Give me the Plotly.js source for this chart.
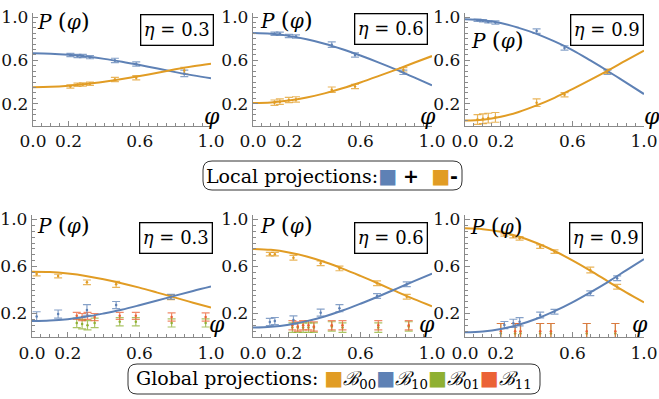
<!DOCTYPE html>
<html><head><meta charset="utf-8">
<script src="https://cdn.plot.ly/plotly-3.0.1.min.js"></script>
<style>html,body{margin:0;padding:0;background:#fff;}#plot{width:659px;height:399px;}</style>
</head><body><div id="plot"></div>
<script>
// ---------- data ----------
const phiGrid = [0,0.1,0.2,0.3,0.4,0.5,0.6,0.7,0.8,0.9,1.0];
const etaLabels = ["0.3","0.6","0.9"];

// Local projections: theory curves
const t1Plus  = [0.665,0.662,0.652,0.636,0.614,0.587,0.557,0.525,0.492,0.462,0.435];
const t1Minus = [0.353,0.357,0.367,0.382,0.403,0.428,0.456,0.487,0.518,0.546,0.570];
const t2Plus  = [0.852,0.845,0.826,0.795,0.754,0.703,0.645,0.582,0.515,0.443,0.370];
const t2Minus = [0.207,0.213,0.230,0.258,0.296,0.343,0.397,0.455,0.515,0.578,0.640];
const t3Plus  = [0.980,0.970,0.945,0.900,0.845,0.775,0.695,0.600,0.500,0.395,0.290];
const t3Minus = [0.045,0.053,0.080,0.125,0.185,0.255,0.335,0.420,0.508,0.600,0.690];

// Local projections: measured points
const d1x = [0.21,0.25,0.28,0.32,0.46,0.58,0.85];
const d1Plus = [0.650,0.640,0.640,0.630,0.600,0.567,0.480];
const d1PlusErr = [0.015,0.015,0.015,0.015,0.02,0.02,0.03];
const d1Minus = [0.360,0.375,0.378,0.384,0.424,0.440,0.507];
const d1MinusErr = [0.015,0.015,0.015,0.015,0.02,0.02,0.03];
const d2x = [0.12,0.15,0.20,0.24,0.44,0.57,0.84];
const d2Plus = [0.845,0.845,0.825,0.820,0.745,0.650,0.490];
const d2PlusErr = [0.015,0.015,0.015,0.015,0.025,0.02,0.02];
const d2Minus = [0.210,0.220,0.235,0.240,0.330,0.360,0.513];
const d2MinusErr = [0.025,0.025,0.025,0.025,0.025,0.02,0.02];
const d3x = [0.07,0.10,0.13,0.17,0.40,0.556,0.796];
const d3Plus = [0.970,0.965,0.955,0.950,0.870,0.715,0.490];
const d3PlusErr = [0.01,0.01,0.01,0.015,0.02,0.02,0.02];
const d3Minus = [0.055,0.062,0.068,0.075,0.210,0.283,0.500];
const d3MinusErr = [0.045,0.045,0.045,0.045,0.035,0.02,0.02];

// Global projections: theory curves
const g1B00 = [0.556,0.553,0.540,0.520,0.492,0.458,0.420,0.378,0.335,0.292,0.250];
const g1B10 = [0.136,0.140,0.152,0.172,0.200,0.232,0.270,0.310,0.352,0.392,0.430];
const g2B00 = [0.750,0.742,0.720,0.685,0.638,0.582,0.520,0.455,0.388,0.322,0.262];
const g2B10 = [0.080,0.087,0.105,0.135,0.175,0.225,0.283,0.345,0.410,0.475,0.540];
const g3B00 = [0.925,0.918,0.895,0.855,0.800,0.732,0.652,0.565,0.472,0.380,0.295];
const g3B10 = [0.040,0.047,0.068,0.104,0.155,0.220,0.295,0.380,0.470,0.567,0.664];

// Global projections: measured points
const b1x = [0.026,0.146,0.307,0.470,0.776];
const b1B00 = [0.536,0.519,0.465,0.448,0.338];
const b1B00Err = [0.015,0.015,0.02,0.025,0.02];
const b1B10 = [0.175,0.195,0.230,0.272,0.343];
const b1B10Err = [0.04,0.035,0.045,0.03,0.02];
const b1xGR = [0.25,0.28,0.31,0.35,0.49,0.58,0.78,0.97];
const b1B01 = [0.12,0.11,0.10,0.12,0.13,0.13,0.12,0.12];
const b1B01Err = [0.04,0.04,0.04,0.04,0.035,0.035,0.035,0.035];
const b1B11 = [0.18,0.17,0.18,0.17,0.18,0.18,0.17,0.17];
const b1B11Err = [0.03,0.03,0.03,0.03,0.03,0.03,0.035,0.035];

const b2x = [0.094,0.122,0.226,0.378,0.483,0.693,0.859];
const b2B00 = [0.705,0.705,0.675,0.627,0.584,0.457,0.343];
const b2B00Err = [0.015,0.015,0.02,0.02,0.02,0.02,0.02];
const b2B10 = [0.128,0.136,0.145,0.207,0.245,0.349,0.449];
const b2B10Err = [0.03,0.03,0.035,0.03,0.03,0.02,0.02];
const b2xGR = [0.22,0.25,0.28,0.31,0.34,0.44,0.50,0.70,0.87];
const b2B01 = [0.08,0.08,0.08,0.08,0.08,0.09,0.08,0.08,0.09];
const b2B01Err = [0.04,0.04,0.04,0.04,0.04,0.04,0.04,0.04,0.04];
const b2B11 = [0.10,0.09,0.10,0.10,0.09,0.10,0.10,0.10,0.10];
const b2B11Err = [0.04,0.04,0.04,0.04,0.04,0.04,0.04,0.04,0.04];

const b3x = [0.22,0.27,0.305,0.42,0.50,0.70,0.85];
const b3B00 = [0.868,0.854,0.840,0.769,0.726,0.570,0.428];
const b3B00Err = [0.01,0.01,0.015,0.015,0.015,0.025,0.02];
const b3B10 = [0.102,0.116,0.130,0.187,0.215,0.372,0.500];
const b3B10Err = [0.03,0.035,0.035,0.025,0.02,0.02,0.02];
const b3xGR = [0.20,0.28,0.31,0.42,0.48,0.68,0.84];
const b3B01 = [0.03,0.03,0.03,0.03,0.03,0.03,0.03];
const b3B01Err = [0.085,0.085,0.085,0.085,0.085,0.085,0.085];
const b3B11 = [0.05,0.05,0.05,0.05,0.05,0.05,0.05];
const b3B11Err = [0.065,0.065,0.065,0.065,0.065,0.065,0.065];

const xTickVals = [0,0.2,0.6,1.0];
const xTickText = ["0.0","0.2","0.6","1.0"];
const yTickVals = [0.2,0.6,1.0];
const yTickText = ["0.2","0.6","1.0"];

// ---------- styling ----------
const BLUE='rgb(94,129,181)', ORANGE='rgb(225,156,36)', GREEN='rgb(143,176,50)', RED='rgb(235,98,53)';
function fade(c,a){return c.replace('rgb','rgba').replace(')',','+a+')');}
const W=659,H=399;
const fx=p=>p/W, fy=p=>1-p/H;
const SERIF='DejaVu Serif';

const traces=[];
function curve(ax,y,c){
  traces.push({x:phiGrid,y:y,xaxis:'x'+ax,yaxis:'y'+ax,mode:'lines',
    line:{color:c,width:2,shape:'spline',smoothing:1},hoverinfo:'skip',showlegend:false});
}
function pts(ax,x,y,e,c){
  traces.push({x:x,y:y,xaxis:'x'+ax,yaxis:'y'+ax,mode:'markers',
    marker:{color:c,size:2.5},
    error_y:{type:'data',array:e,visible:true,color:fade(c,0.75),thickness:1.2,width:4},
    hoverinfo:'skip',showlegend:false});
}
pts('',d1x,d1Plus,d1PlusErr,BLUE); pts('',d1x,d1Minus,d1MinusErr,ORANGE);
curve('',t1Plus,BLUE); curve('',t1Minus,ORANGE);
pts('2',d2x,d2Plus,d2PlusErr,BLUE); pts('2',d2x,d2Minus,d2MinusErr,ORANGE);
curve('2',t2Plus,BLUE); curve('2',t2Minus,ORANGE);
pts('3',d3x,d3Plus,d3PlusErr,BLUE); pts('3',d3x,d3Minus,d3MinusErr,ORANGE);
curve('3',t3Plus,BLUE); curve('3',t3Minus,ORANGE);
pts('4',b1xGR,b1B01,b1B01Err,GREEN); pts('4',b1xGR,b1B11,b1B11Err,RED);
pts('4',b1x,b1B00,b1B00Err,ORANGE); pts('4',b1x,b1B10,b1B10Err,BLUE);
curve('4',g1B00,ORANGE); curve('4',g1B10,BLUE);
pts('5',b2xGR,b2B01,b2B01Err,GREEN); pts('5',b2xGR,b2B11,b2B11Err,RED);
pts('5',b2x,b2B00,b2B00Err,ORANGE); pts('5',b2x,b2B10,b2B10Err,BLUE);
curve('5',g2B00,ORANGE); curve('5',g2B10,BLUE);
pts('6',b3xGR,b3B01,b3B01Err,GREEN); pts('6',b3xGR,b3B11,b3B11Err,RED);
pts('6',b3x,b3B00,b3B00Err,ORANGE); pts('6',b3x,b3B10,b3B10Err,BLUE);
curve('6',g3B00,ORANGE); curve('6',g3B10,BLUE);

const AXC='#8a8a8a';
function xax(l,r,anchor){
  return {domain:[fx(l),fx(r)],range:[0,1.0],anchor:anchor,showgrid:false,zeroline:false,
    showline:true,linecolor:AXC,linewidth:1.2,ticks:'inside',ticklen:5,tickcolor:AXC,tickwidth:1,
    tickmode:'array',tickvals:xTickVals,ticktext:xTickText,
    minor:{tickmode:'linear',tick0:0,dtick:0.05,ticks:'inside',ticklen:3,tickcolor:AXC,tickwidth:1},
    tickfont:{family:SERIF,size:17,color:'#111'},fixedrange:true};
}
function yax(b,t,anchor){
  return {domain:[fy(b),fy(t)],range:[0,1.04],anchor:anchor,showgrid:false,zeroline:false,
    showline:true,linecolor:AXC,linewidth:1.2,ticks:'inside',ticklen:5,tickcolor:AXC,tickwidth:1,
    tickmode:'array',tickvals:yTickVals,ticktext:yTickText,
    minor:{tickmode:'linear',tick0:0,dtick:0.05,ticks:'inside',ticklen:3,tickcolor:AXC,tickwidth:1},
    tickfont:{family:SERIF,size:17,color:'#111'},fixedrange:true};
}
const topB=125.5, topT=125.5-1.04*108.5;
const botB=337, botT=337-1.04*117.5;

const ann=[];
function txt(x,y,t,size,extra){
  ann.push(Object.assign({xref:'paper',yref:'paper',x:fx(x),y:fy(y),text:t,showarrow:false,
    xanchor:'center',yanchor:'middle',font:{family:SERIF,size:size,color:'#000'}},extra||{}));
}
const Plab='<i>P</i> <span style="font-size:23px">(</span><i>φ</i><span style="font-size:23px">)</span>';
[[63,21],[286,20],[497,40],[63,225],[286,225],[496,226]].forEach(p=>txt(p[0],p[1],Plab,20));
[[212,116],[428,116],[652,116],[217,324],[427,324],[640,324]].forEach(p=>txt(p[0],p[1],'<i>φ</i>',22));
[[177,30,0],[391,29,1],[607,30,2],[176,238,0],[391,238,1],[606,238,2]].forEach(p=>
  txt(p[0],p[1],'<i>η</i> = '+etaLabels[p[2]],18,
    {bordercolor:'#000',borderwidth:1.3,borderpad:2,bgcolor:'#fff',width:67,height:25}));

const sq=c=>'<span style="color:'+c+';font-family:DejaVu Sans;font-size:20px">■</span>';
txt(332,176,'Local projections:'+sq(BLUE)+' <b><span style="font-family:DejaVu Sans">+</span></b>  '+sq(ORANGE)+'<b><span style="font-family:DejaVu Sans">-</span></b>',19);
txt(334,379,'Global projections: '+sq(ORANGE)+'<i>ℬ</i><sub>00</sub>'+sq(BLUE)+'<i>ℬ</i><sub>10</sub>'+sq(GREEN)+'<i>ℬ</i><sub>01</sub>'+sq(RED)+'<i>ℬ</i><sub>11</sub>',19);

function rrect(l,t,r,b,rad){
  const P=(x,y)=>fx(x)+','+fy(y);
  return 'M'+P(l+rad,t)+' L'+P(r-rad,t)+' Q'+P(r,t)+' '+P(r,t+rad)+' L'+P(r,b-rad)+' Q'+P(r,b)+' '+P(r-rad,b)+
    ' L'+P(l+rad,b)+' Q'+P(l,b)+' '+P(l,b-rad)+' L'+P(l,t+rad)+' Q'+P(l,t)+' '+P(l+rad,t)+' Z';
}
const shapes=[
  {type:'path',xref:'paper',yref:'paper',path:rrect(203,161,462,190,9),line:{color:'#333',width:1}},
  {type:'path',xref:'paper',yref:'paper',path:rrect(128,364,540,394,9),line:{color:'#333',width:1}}
];

const layout={width:W,height:H,margin:{l:0,r:0,t:0,b:0},paper_bgcolor:'#fff',plot_bgcolor:'rgba(0,0,0,0)',
  showlegend:false,annotations:ann,shapes:shapes,
  xaxis:xax(33,211,'y'), yaxis:yax(topB,topT,'x'),
  xaxis2:xax(253,432,'y2'), yaxis2:yax(topB,topT,'x2'),
  xaxis3:xax(465,644,'y3'), yaxis3:yax(topB,topT,'x3'),
  xaxis4:xax(32,211,'y4'), yaxis4:yax(botB,botT,'x4'),
  xaxis5:xax(253,432,'y5'), yaxis5:yax(botB,botT,'x5'),
  xaxis6:xax(465,644,'y6'), yaxis6:yax(botB,botT,'x6')
};
Plotly.newPlot('plot',traces,layout,{staticPlot:true,displayModeBar:false});
</script></body></html>
